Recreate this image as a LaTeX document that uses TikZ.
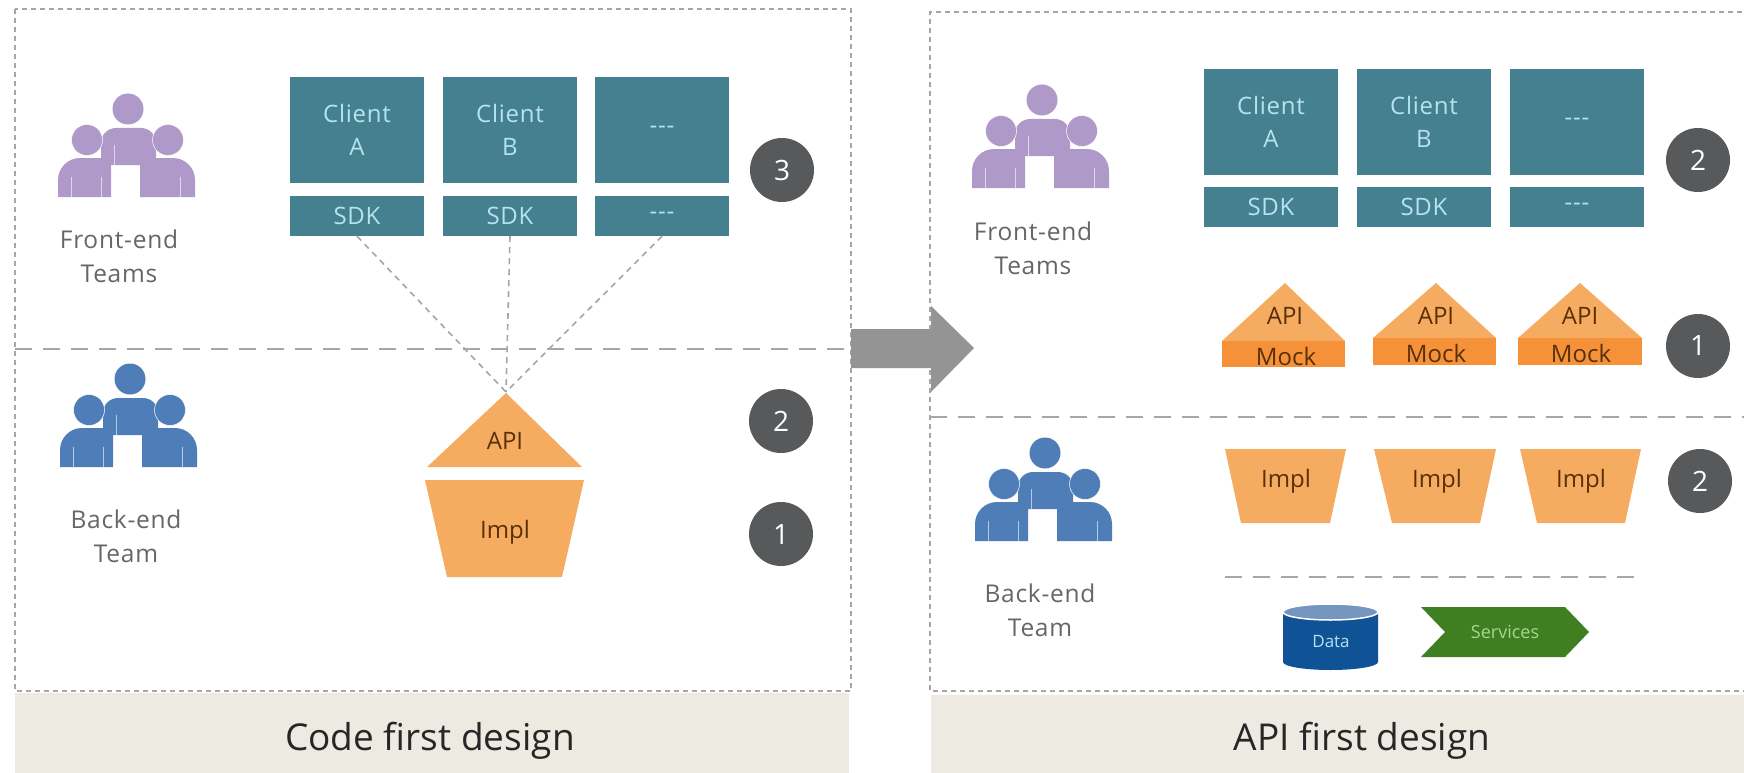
\documentclass[tikz,border=0pt]{standalone}
\usepackage{fontspec}
\setmainfont{Open Sans}
\newfontfamily\widefont[LetterSpace=3]{Open Sans}
\definecolor{tealbox}{HTML}{44808F}
\definecolor{tealtext}{HTML}{B5E3EE}
\definecolor{orangebox}{HTML}{F5AC61}
\definecolor{orangemock}{HTML}{F59139}
\definecolor{browntext}{HTML}{5A3008}
\definecolor{purpleteam}{HTML}{AF99C8}
\definecolor{blueteam}{HTML}{4F7DB8}
\definecolor{badge}{HTML}{58595B}
\definecolor{footer}{HTML}{ECEAE1}
\definecolor{dashgray}{HTML}{A6A6A6}
\definecolor{datablue}{HTML}{0F5296}
\definecolor{datatop}{HTML}{7395BE}
\definecolor{servgreen}{HTML}{3F7F22}
\definecolor{servtext}{HTML}{A4D88F}
% team icon, top left corner at (#1,#2)
\newcommand{\teamicon}[3]{
 \fill[#3] (#1+43,#2+70)--(#1+43,#2+48) arc (180:270:15)--(#1+83,#2+33) arc (270:360:15)--(#1+98,#2+70)--cycle;
 \fill[#3] (#1+0,#2+102)--(#1+0,#2+85) arc (180:270:22)--(#1+53,#2+63)--(#1+53,#2+102)--cycle;
 \fill[#3] (#1+82,#2+102)--(#1+82,#2+63)--(#1+115,#2+63) arc (270:360:22)--(#1+137,#2+102)--cycle;
 \fill[#3] (#1+70,#2+14) circle (15.5);
 \filldraw[#3, draw=white, line width=0.5] (#1+29,#2+45) circle (15.5);
 \filldraw[#3, draw=white, line width=0.5] (#1+110,#2+45) circle (15.5);
 \draw[white, opacity=0.6, line width=0.8] (#1+13,#2+82)--(#1+13,#2+102) (#1+43,#2+82)--(#1+43,#2+102) (#1+122,#2+82)--(#1+122,#2+102) (#1+56,#2+50)--(#1+56,#2+70);
}
\begin{document}
\begin{tikzpicture}[x=1pt, y=-1pt]
 \tikzstyle{clientbox}=[fill=tealbox, text=tealtext, align=center, inner sep=0pt, minimum width=134, font=\widefont\fontsize{24}{33}\selectfont]
 \tikzstyle{teamlabel}=[text=black!60, align=center, font=\widefont\fontsize{24.5}{34}\selectfont]
 \tikzstyle{orangelabel}=[text=browntext, inner sep=0pt, font=\fontsize{24}{28}\selectfont]
 \tikzstyle{badgenode}=[circle, fill=badge, text=white, inner sep=0pt, minimum size=64, font=\fontsize{28}{32}\selectfont]
 \tikzstyle{footerlabel}=[text=black!85, font=\fontsize{37}{42}\selectfont]
 \tikzstyle{boxdash}=[dashgray, line width=1.6, dash pattern=on 5 off 4]
 \tikzstyle{middash}=[dashgray, line width=2.8, dash pattern=on 17 off 11]
 \tikzstyle{conn}=[dashgray, line width=1.6, dash pattern=on 6 off 5]
 \useasboundingbox (0,0) rectangle (1744,773);
 \fill[white] (0,0) rectangle (1744,773);
 %
 \fill[footer] (15,693) rectangle (849,773);
 \fill[footer] (931,695) rectangle (1744,773);
 \draw[boxdash] (15,9) rectangle (851,691);
 \draw[boxdash] (1760,12)--(930,12)--(930,691)--(1760,691);
 \draw[middash] (15,349)--(851,349);
 \draw[middash] (930,417)--(1744,417);
 \draw[middash] (1225,577)--(1637,577);
 %
 \node[footerlabel] (codefirst) at (430,741) {Code first design};
 \node[footerlabel] (apifirst) at (1362,741) {API first design};
 % arrow
 \fill[black!42] (851,329)--(931,329)--(931,306)--(974,348)--(931,392)--(931,368)--(851,368)--cycle;
 % teams
 \teamicon{58}{95}{purpleteam}
 \teamicon{60}{365}{blueteam}
 \teamicon{972}{86}{purpleteam}
 \teamicon{975}{439}{blueteam}
 \node[teamlabel] (frontL) at (119,256) {Front-end\\Teams};
 \node[teamlabel] (backL) at (126,536) {Back-end\\Team};
 \node[teamlabel] (frontR) at (1033,248) {Front-end\\Teams};
 \node[teamlabel] (backR) at (1040,610) {Back-end\\Team};
 %
 \node[clientbox, minimum height=105] (clientLA) at (357,130) {Client\\A};
 \node[clientbox, minimum height=105] (clientLB) at (510,130) {Client\\B};
 \node[clientbox, minimum height=105] (clientLC) at (662,130) {---};
 \node[clientbox, minimum height=40] (sdkLA) at (357,216) {SDK};
 \node[clientbox, minimum height=40] (sdkLB) at (510,216) {SDK};
 \node[clientbox, minimum height=40] (sdkLC) at (662,216) {---};
 %
 \node[clientbox, minimum height=105] (clientRA) at (1271,122) {Client\\A};
 \node[clientbox, minimum height=105] (clientRB) at (1424,122) {Client\\B};
 \node[clientbox, minimum height=105] (clientRC) at (1577,122) {---};
 \node[clientbox, minimum height=40] (sdkRA) at (1271,207) {SDK};
 \node[clientbox, minimum height=40] (sdkRB) at (1424,207) {SDK};
 \node[clientbox, minimum height=40] (sdkRC) at (1577,207) {---};
 %
 \fill[orangebox] (506,393)--(582,467)--(427,467)--cycle;
 \fill[orangebox] (425,480)--(584,480)--(562,577)--(447,577)--cycle;
 \node[orangelabel] (apiL) at (505,441) {API};
 \node[orangelabel] (implL) at (505,532) {Impl};
 \coordinate (apexL) at (506,392);
 %%
 \draw[conn] (sdkLA.south)--(apexL);
 \draw[conn] (sdkLB.south)--(apexL);
 \draw[conn] (sdkLC.south)--(apexL);
 %
 \fill[orangebox] (1285,283)--(1345,341)--(1222,341)--cycle;
 \fill[orangemock] (1222,341) rectangle (1345,367);
 \fill[orangebox] (1436,283)--(1496,338)--(1373,338)--cycle;
 \fill[orangemock] (1373,338) rectangle (1496,365);
 \fill[orangebox] (1580,283)--(1642,338)--(1518,338)--cycle;
 \fill[orangemock] (1518,338) rectangle (1642,365);
 \node[orangelabel] (apiRA) at (1285,316) {API};
 \node[orangelabel] (apiRB) at (1436,316) {API};
 \node[orangelabel] (apiRC) at (1580,316) {API};
 \node[orangelabel] (mockRA) at (1286,356) {Mock};
 \node[orangelabel] (mockRB) at (1436,353) {Mock};
 \node[orangelabel] (mockRC) at (1581,353) {Mock};
 %
 \fill[orangebox] (1225,449)--(1346,449)--(1330,523)--(1241,523)--cycle;
 \fill[orangebox] (1374,449)--(1496,449)--(1480,523)--(1392,523)--cycle;
 \fill[orangebox] (1520,449)--(1641,449)--(1625,523)--(1537,523)--cycle;
 \node[orangelabel] (implRA) at (1286,481) {Impl};
 \node[orangelabel] (implRB) at (1437,481) {Impl};
 \node[orangelabel] (implRC) at (1581,481) {Impl};
 %
 \fill[datablue] (1283,612)--(1283,662) arc (180:0:47.5 and 8)--(1378,612)--cycle;
 \filldraw[fill=datatop, draw=white, line width=1.5] (1330.5,612) ellipse (47.5 and 8);
 \node[inner sep=0pt, text=tealtext, font=\fontsize{17}{20}\selectfont] (dataR) at (1331,642) {Data};
 \fill[servgreen] (1421,607)--(1565,607)--(1589,632)--(1565,657)--(1421,657)--(1445,632)--cycle;
 \node[inner sep=0pt, text=servtext, font=\fontsize{18}{20}\selectfont] (servicesR) at (1505,632) {Services};
 %
 \node[badgenode] (badgeL3) at (782,170) {3};
 \node[badgenode] (badgeL2) at (781,421) {2};
 \node[badgenode] (badgeL1) at (781,534) {1};
 \node[badgenode] (badgeR2) at (1698,160) {2};
 \node[badgenode] (badgeR1) at (1698,346) {1};
 \node[badgenode] (badgeR3) at (1700,481) {2};
\end{tikzpicture}
\end{document}
